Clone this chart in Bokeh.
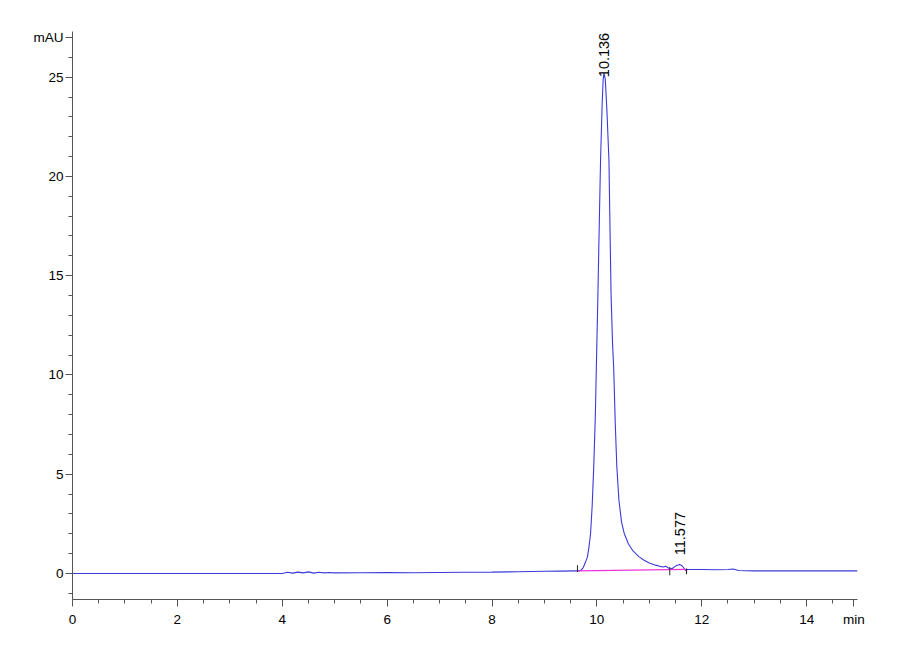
import numpy as np
from bokeh.plotting import figure
from bokeh.models import Range1d, FixedTicker, ColumnDataSource
from bokeh.core.properties import value
from bokeh.embed import file_html
from bokeh.resources import INLINE

# ---- data ----
time_min = [0, 1, 2, 3, 4.0, 4.1, 4.2, 4.3, 4.4, 4.5, 4.6, 4.7, 4.8, 4.9, 5.0,
            5.5, 6, 6.5, 7, 7.5, 8, 8.5, 9, 9.3, 9.6,
            9.65, 9.70, 9.74, 9.78, 9.82, 9.85, 9.88, 9.91, 9.94, 9.97,
            9.99, 10.02, 10.05, 10.07, 10.10, 10.12, 10.136, 10.16, 10.19,
            10.23, 10.27, 10.30, 10.32, 10.35, 10.38, 10.42, 10.47, 10.52,
            10.60, 10.68, 10.80, 10.90, 11.00, 11.12, 11.20, 11.27, 11.31,
            11.35, 11.40, 11.45, 11.50, 11.577, 11.63, 11.69, 11.73, 11.8,
            12.0, 12.3, 12.5, 12.6, 12.7, 13.0, 14.0, 14.97]
absorb_mau = [0, 0, 0, 0, 0.0, 0.06, 0.02, 0.07, 0.03, 0.08, 0.02, 0.06, 0.03, 0.05, 0.03,
              0.04, 0.05, 0.04, 0.05, 0.06, 0.07, 0.09, 0.11, 0.12, 0.13,
              0.13, 0.17, 0.30, 0.55, 0.84, 1.35, 2.03, 3.4, 5.37, 7.9,
              10.4, 14.1, 18.2, 20.8, 23.6, 24.9, 25.2, 24.9, 23.4,
              20.8, 14.1, 11.5, 10.4, 7.6, 5.4, 3.7, 2.6, 2.03,
              1.5, 1.17, 0.85, 0.67, 0.53, 0.42, 0.36, 0.33, 0.37,
              0.30, 0.22, 0.27, 0.38, 0.45, 0.38, 0.15, 0.20, 0.20,
              0.20, 0.19, 0.20, 0.23, 0.15, 0.13, 0.13, 0.13]

peak_times = [10.136, 11.577]
peak_labels = ["10.136", "11.577"]
peak_label_y = [25.0, 0.92]

baseline_x = [9.63, 11.71]
baseline_y = [0.13, 0.21]

marker_x = [9.63, 11.39, 11.71]
marker_y_top = [0.42, 0.33, 0.25]
marker_y_bottom = [0.08, -0.09, -0.04]

x_major = [0, 2, 4, 6, 8, 10, 12, 14, 14.9]
x_labels = {14.9: "min"}
y_major = [0, 5, 10, 15, 20, 25, 27]
y_labels = {27: "mAU"}

FONT = "Liberation Sans"

p = figure(width=887, height=639, output_backend="svg", toolbar_location=None,
           x_range=Range1d(0, 14.97), y_range=Range1d(-1.31, 27.3),
           min_border_left=72, min_border_right=30, min_border_top=31,
           min_border_bottom=40)
p.outline_line_color = None
p.xgrid.grid_line_color = None
p.ygrid.grid_line_color = None
p.background_fill_color = "white"
p.border_fill_color = "white"

p.xaxis.ticker = FixedTicker(ticks=x_major, minor_ticks=list(np.arange(0, 14.6, 0.5)))
p.yaxis.ticker = FixedTicker(ticks=y_major, minor_ticks=list(range(-1, 28)))
p.xaxis.major_label_overrides = x_labels
p.yaxis.major_label_overrides = y_labels
for ax in (p.xaxis, p.yaxis):
    ax.axis_line_color = "#555555"
    ax.major_tick_line_color = "#555555"
    ax.minor_tick_line_color = "#555555"
    ax.major_tick_out = 7
    ax.major_tick_in = 0
    ax.minor_tick_out = 4
    ax.minor_tick_in = 0
    ax.major_label_text_font = FONT
    ax.major_label_text_font_size = "13.5px"
    ax.major_label_text_color = "black"
p.xaxis.major_label_standoff = 5
p.yaxis.major_label_standoff = 2

# chromatogram
p.line(time_min, absorb_mau, line_color="#3a3ad8", line_width=1.1)
# integration baseline
p.line(baseline_x, baseline_y, line_color="#ee33dd", line_width=1.2)
# peak delimiters
p.segment(x0=marker_x, y0=marker_y_bottom, x1=marker_x, y1=marker_y_top,
          line_color="#222222", line_width=1)

src = ColumnDataSource(dict(x=peak_times, y=peak_label_y, t=peak_labels))
p.text(x="x", y="y", text="t", source=src, angle=np.pi / 2,
       text_align="left", text_baseline="middle",
       text_font=value(FONT), text_font_size="14.5px", text_color="black")

open("out.html", "w").write(file_html(p, INLINE))
